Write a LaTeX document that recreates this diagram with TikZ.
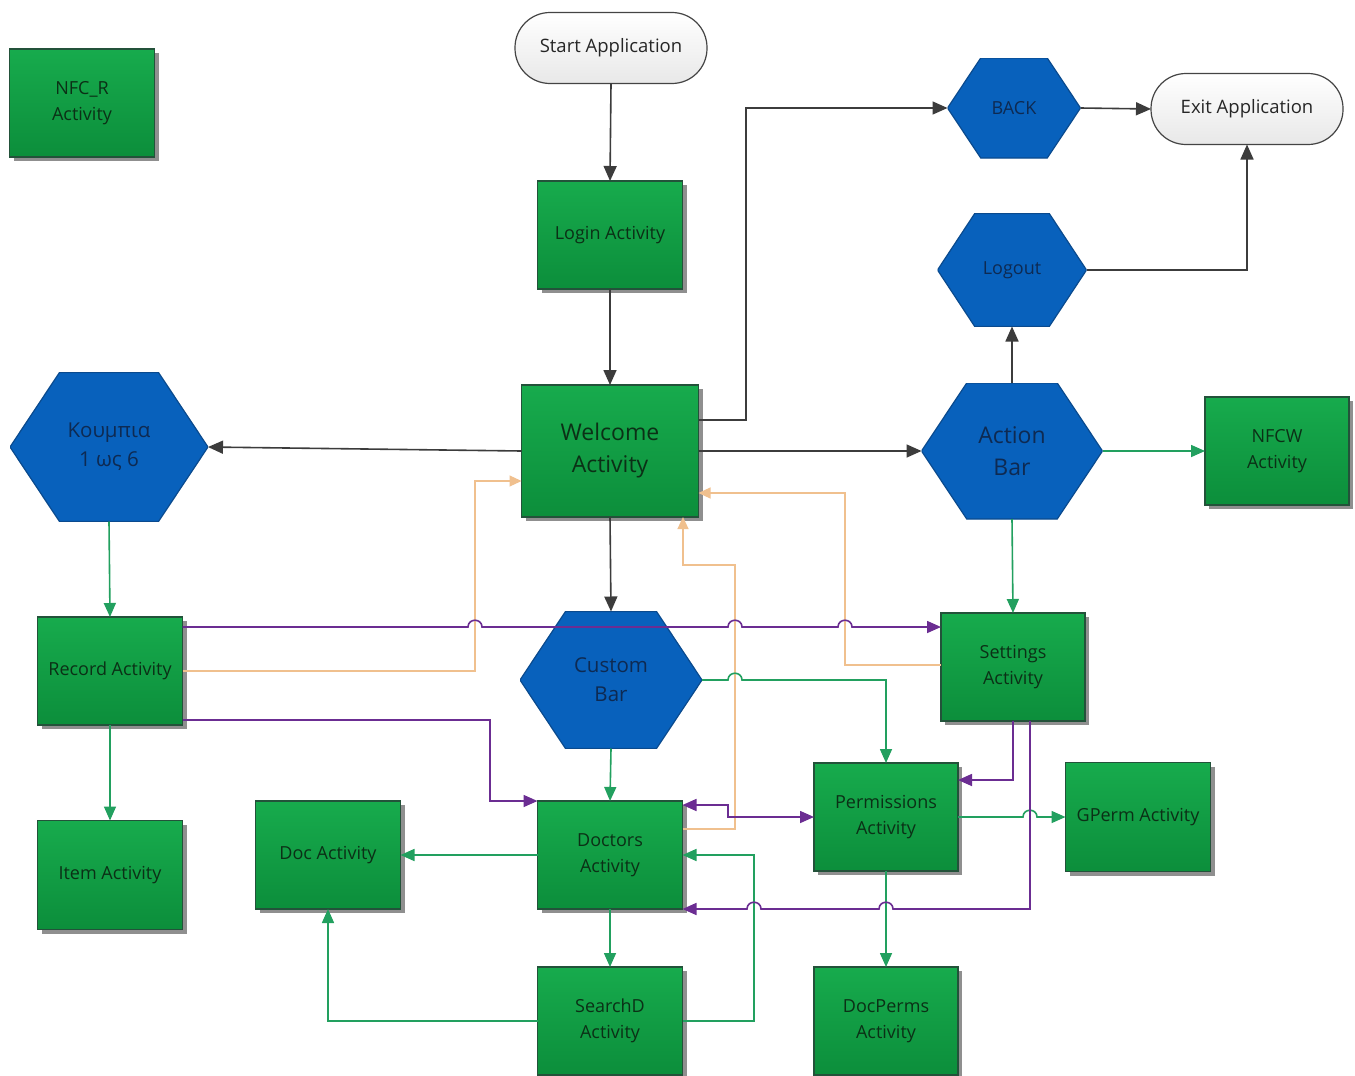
\documentclass[tikz,border=0pt]{standalone}
\usepackage{fontspec}
\setmainfont{Open Sans}
\usetikzlibrary{arrows.meta,shadows,calc}

\definecolor{greentop}{HTML}{17AB4D}
\definecolor{greenbot}{HTML}{0C8E3B}
\definecolor{actborder}{HTML}{23523A}
\definecolor{acttext}{HTML}{0B3016}
\definecolor{hexblue}{HTML}{0861BC}
\definecolor{hexborder}{HTML}{0A4A8E}
\definecolor{hextext}{HTML}{0E2A52}
\definecolor{termborder}{HTML}{444444}
\definecolor{darkline}{HTML}{3C3C3C}
\definecolor{greenline}{HTML}{22A05F}
\definecolor{purpleline}{HTML}{6B2D92}
\definecolor{tanline}{HTML}{F0C08E}

\tikzset{
  act/.style={rectangle, draw=actborder, line width=1.2pt,
    top color=greentop, bottom color=greenbot,
    minimum width=145pt, minimum height=108pt, inner sep=0pt, outer sep=0pt,
    text=acttext, align=center, font=\fontsize{18}{26}\selectfont,
    drop shadow={shadow xshift=4pt, shadow yshift=-4pt, fill=black!55, opacity=0.8}},
  hexa/.style={rectangle, inner sep=0pt, outer sep=0pt, text=hextext, align=center,
    path picture={
      \filldraw[fill=hexblue, draw=hexborder, line width=1.2pt]
        (path picture bounding box.west)
        -- ($(path picture bounding box.north west)!0.25!(path picture bounding box.north east)$)
        -- ($(path picture bounding box.north west)!0.75!(path picture bounding box.north east)$)
        -- (path picture bounding box.east)
        -- ($(path picture bounding box.south west)!0.75!(path picture bounding box.south east)$)
        -- ($(path picture bounding box.south west)!0.25!(path picture bounding box.south east)$)
        -- cycle;}},
  term/.style={rectangle, rounded corners=35pt, draw=termborder, line width=1.2pt,
    top color=white, bottom color=black!9, inner sep=0pt, outer sep=0pt,
    minimum width=192pt, minimum height=71pt, text=black!85,
    font=\fontsize{18.5}{22}\selectfont},
  dk/.style={draw=darkline, line width=1.6pt, -{Triangle[length=15pt,width=13pt]}},
  gr/.style={draw=greenline, line width=1.6pt, -{Triangle[length=14pt,width=12pt]}},
  pu/.style={draw=purpleline, line width=1.6pt, -{Triangle[length=14pt,width=12pt]}},
  tn/.style={draw=tanline, line width=1.2pt, -{Triangle[length=12pt,width=11pt]}},
}

\begin{document}
\begin{tikzpicture}[x=1pt, y=-1pt]
  \useasboundingbox[fill=white] (0,0) rectangle (1355,1076);

  % terminals
  \node[term] (start) at (611,48) {Start Application};
  \node[term] (exit) at (1247,109) {Exit Application};

  % activities
  \node[act] (nfcr) at (82,103) {NFC\_R\\Activity};
  \node[act] (login) at (610,235) {Login Activity};
  \node[act, minimum width=177pt, minimum height=132pt, font=\fontsize{23}{32}\selectfont] (welcome) at (610,451) {Welcome\\Activity};
  \node[act, minimum width=144pt] (nfcw) at (1277,451) {NFCW\\Activity};
  \node[act] (record) at (110,671) {Record Activity};
  \node[act, minimum width=144pt] (settings) at (1013,667) {Settings\\Activity};
  \node[act, minimum height=109pt] (item) at (110,875) {Item Activity};
  \node[act] (doc) at (328,855) {Doc Activity};
  \node[act] (doctors) at (610,855) {Doctors\\Activity};
  \node[act, minimum width=144pt] (perm) at (886,817) {Permissions\\Activity};
  \node[act, minimum height=109pt] (gperm) at (1138,817) {GPerm Activity};
  \node[act] (searchd) at (610,1021) {SearchD\\Activity};
  \node[act, minimum width=144pt] (docperms) at (886,1021) {DocPerms\\Activity};

  % bars and buttons
  \node[hexa, minimum width=198pt, minimum height=149pt, font=\fontsize{20.5}{29}\selectfont] (koumpia) at (109,447) {Κουμπια\\1 ως 6};
  \node[hexa, minimum width=181pt, minimum height=136pt, font=\fontsize{23}{32}\selectfont] (actionbar) at (1012,451) {Action\\Bar};
  \node[hexa, minimum width=133pt, minimum height=100pt, font=\fontsize{18}{22}\selectfont] (back) at (1014,108) {BACK};
  \node[hexa, minimum width=149pt, minimum height=113pt, font=\fontsize{18}{22}\selectfont] (logout) at (1012,270) {Logout};
  \node[hexa, minimum width=182pt, minimum height=137pt, font=\fontsize{20.5}{29}\selectfont] (custombar) at (611,680) {Custom\\Bar};

  % main flow
  \draw[dk] (start.south) -- (login.north);
  \draw[dk] (login.south) -- (welcome.north);
  \draw[dk] ([yshift=31pt]welcome.east) -- (746,420) |- (back.west);
  \draw[dk] (back.east) -- (exit.west);
  \draw[dk] (logout.east) -| (exit.south);
  \draw[dk] (actionbar.north) -- (logout.south);
  \draw[dk] (welcome.west) -- (koumpia.east);
  \draw[dk] (welcome.east) -- (actionbar.west);
  \draw[dk] (welcome.south) -- (custombar.north);

  % return paths to the welcome screen
  \draw[tn] (record.east) -- (475,671) -- (475,481) -- ([yshift=-30pt]welcome.west);
  \draw[tn] ([yshift=26pt]doctors.east) -- (735,829) -- (735,565) -- (683,565) -- ([xshift=73pt]welcome.south);
  \draw[tn] ([yshift=2pt]settings.west) -- (845,665) -- (845,493) -- ([yshift=-42pt]welcome.east);

  % green transitions
  \draw[gr] (koumpia.south) -- (record.north);
  \draw[gr] (actionbar.east) -- (nfcw.west);
  \draw[gr] (actionbar.south) -- (settings.north);
  \draw[gr] (record.south) -- (item.north);
  \draw[gr] (custombar.south) -- (doctors.north);
  \draw[gr] (custombar.east) -- (728,680) .. controls (728,671) and (742,671) .. (742,680) -- (886,680) -- (perm.north);
  \draw[gr] (doctors.west) -- (doc.east);
  \draw[gr] (doctors.south) -- (searchd.north);
  \draw[gr] (searchd.east) -- (754,1021) -- (754,855) -- (doctors.east);
  \draw[gr] (searchd.west) -| (doc.south);
  \draw[gr] (perm.east) -- (1023,817) .. controls (1023,808) and (1037,808) .. (1037,817) -- (gperm.west);
  \draw[gr] (perm.south) -- (docperms.north);

  % purple transitions
  \draw[pu] ([yshift=-10pt]record.north east) -- (468,627)
    .. controls (468,618) and (482,618) .. (482,627) -- (728,627)
    .. controls (728,618) and (742,618) .. (742,627) -- (838,627)
    .. controls (838,618) and (852,618) .. (852,627) -- ([yshift=-14pt]settings.north west);
  \draw[pu] ([yshift=5pt]record.south east) -- (490,720) -- (490,801) -- (doctors.north west);
  \draw[pu, {Triangle[length=14pt,width=12pt]}-{Triangle[length=14pt,width=12pt]}]
    ([yshift=-4pt]doctors.north east) -- (728,805) -- (728,817) -- (perm.west);
  \draw[pu] (settings.south) -- (1013,780) -- ([yshift=37pt]perm.east);
  \draw[pu] ([xshift=17pt]settings.south) -- (1030,909) -- (893,909)
    .. controls (893,900) and (879,900) .. (879,909) -- (761,909)
    .. controls (761,900) and (747,900) .. (747,909) -- (doctors.south east);
\end{tikzpicture}
\end{document}
